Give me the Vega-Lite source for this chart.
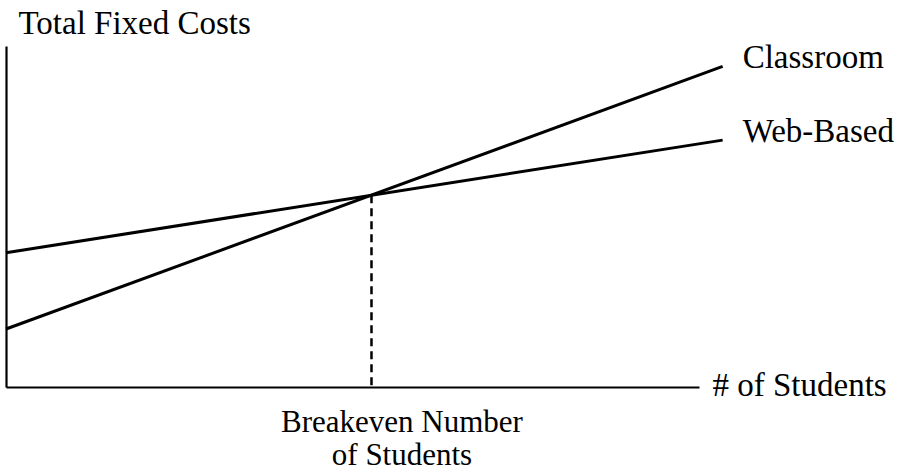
{
  "$schema": "https://vega.github.io/schema/vega-lite/v6.json",
  "width": 693,
  "height": 341,
  "autosize": "none",
  "padding": {"left": 6, "top": 46, "right": 200, "bottom": 85},
  "background": "white",
  "config": {
    "view": {"stroke": null},
    "font": "Liberation Serif",
    "text": {"font": "Liberation Serif"}
  },
  "datasets": {
    "lines": [
      {"series": "Classroom", "students": 0, "cost": 17.0},
      {"series": "Classroom", "students": 100, "cost": 94.0},
      {"series": "Web-Based", "students": 0, "cost": 39.4},
      {"series": "Web-Based", "students": 100, "cost": 72.4}
    ],
    "breakeven": [
      {"students": 51, "cost": 56.2}
    ]
  },
  "layer": [
    {
      "data": {"name": "lines"},
      "mark": {"type": "line", "color": "black", "strokeWidth": 3},
      "encoding": {
        "x": {
          "field": "students",
          "type": "quantitative",
          "scale": {"domain": [0, 96.7], "nice": false, "zero": false},
          "axis": {
            "values": [51],
            "labelExpr": "['Breakeven Number', 'of Students']",
            "ticks": false,
            "grid": false,
            "domainColor": "black",
            "domainWidth": 2.2,
            "labelFont": "Liberation Serif",
            "labelFontSize": 31,
            "labelColor": "black",
            "labelBaseline": "alphabetic",
            "labelPadding": 44,
            "labelLineHeight": 33,
            "labelLimit": 0,
            "labelOffset": 30,
            "labelFlush": false,
            "labelOverlap": false,
            "title": "# of Students",
            "titleFont": "Liberation Serif",
            "titleFontSize": 33,
            "titleFontWeight": "normal",
            "titleColor": "black",
            "titleAlign": "left",
            "titleBaseline": "alphabetic",
            "titleX": 706,
            "titleY": 8
          }
        },
        "y": {
          "field": "cost",
          "type": "quantitative",
          "scale": {"domain": [0, 100], "nice": false},
          "axis": {
            "labels": false,
            "ticks": false,
            "grid": false,
            "domainColor": "black",
            "domainWidth": 2.2,
            "title": "Total Fixed Costs",
            "titleFont": "Liberation Serif",
            "titleFontSize": 33,
            "titleFontWeight": "normal",
            "titleColor": "black",
            "titleAngle": 0,
            "titleAlign": "left",
            "titleBaseline": "alphabetic",
            "titleX": 12,
            "titleY": -13
          }
        },
        "detail": {"field": "series", "type": "nominal"}
      }
    },
    {
      "data": {"name": "breakeven"},
      "mark": {"type": "rule", "color": "black", "strokeWidth": 2.5, "strokeDash": [8, 5]},
      "encoding": {
        "x": {"field": "students", "type": "quantitative"},
        "y": {"field": "cost", "type": "quantitative"},
        "y2": {"datum": 0}
      }
    },
    {
      "data": {"name": "lines"},
      "transform": [{"filter": "datum.students == 100"}],
      "mark": {"type": "text", "align": "left", "baseline": "alphabetic", "dx": 20, "dy": 2, "fontSize": 33, "font": "Liberation Serif", "color": "black"},
      "encoding": {
        "x": {"field": "students", "type": "quantitative"},
        "y": {"field": "cost", "type": "quantitative"},
        "text": {"field": "series", "type": "nominal"}
      }
    }
  ]
}
